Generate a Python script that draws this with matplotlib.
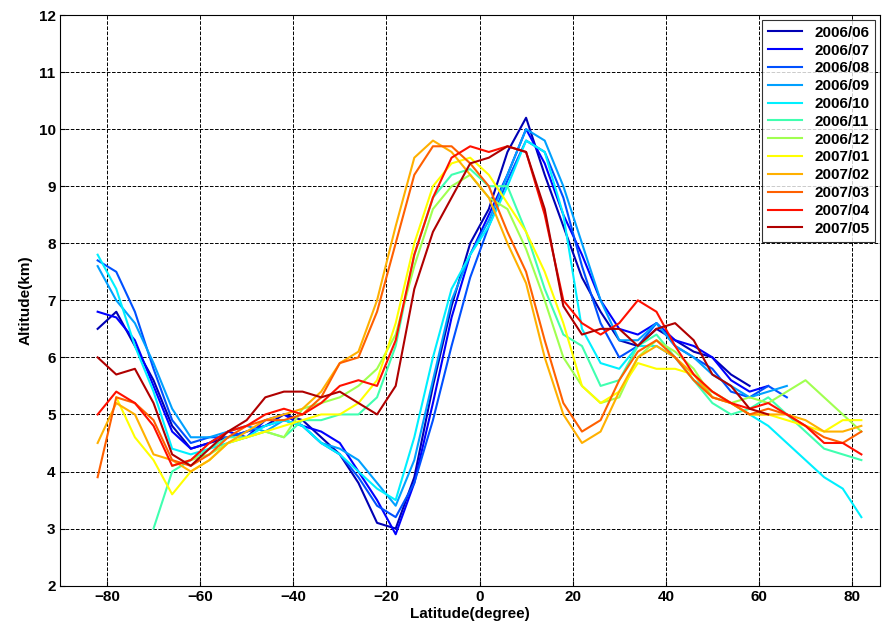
import matplotlib
matplotlib.use("Agg")
import matplotlib.pyplot as plt
import numpy as np

plt.rcParams["font.family"] = ["Liberation Sans", "DejaVu Sans"]
nan = np.nan

lat = np.arange(-82, 83, 4)

labels = ["2006/06", "2006/07", "2006/08", "2006/09", "2006/10", "2006/11",
          "2006/12", "2007/01", "2007/02", "2007/03", "2007/04", "2007/05"]
colors = ["#0000b4", "#0000ff", "#0050ff", "#00a0ff", "#00f0ff", "#40ffb0",
          "#a0ff50", "#ffff00", "#ffb000", "#ff6000", "#ff1000", "#b00000"]

m06 = [6.5, 6.8, 6.2, 5.6, 4.8, 4.4, 4.5, 4.6, 4.7, 4.8, 5.0, 4.9, 4.6, 4.3, 3.8, 3.1, 3.0, 3.9, 5.5, 6.9, 8.0,
       8.6, 9.6, 10.2, 9.2, 8.3, 7.4, 6.8, 6.3, 6.2, 6.5, 6.3, 6.1, 6.0, 5.7, 5.5, nan, nan, nan, nan, nan, nan]
m07 = [6.8, 6.7, 6.3, 5.5, 4.7, 4.4, 4.5, 4.7, 4.6, 4.9, 5.0, 4.8, 4.7, 4.5, 4.0, 3.5, 2.9, 3.8, 5.2, 6.7, 7.8,
       8.5, 9.2, 10.0, 9.4, 8.5, 7.8, 7.0, 6.5, 6.4, 6.6, 6.3, 6.2, 6.0, 5.6, 5.4, 5.5, nan, nan, nan, nan, nan]
m08 = [7.7, 7.5, 6.8, 5.8, 4.9, 4.5, 4.6, 4.6, 4.7, 4.8, 4.9, 4.8, 4.5, 4.3, 3.9, 3.4, 3.2, 3.8, 4.9, 6.2, 7.4,
       8.3, 9.1, 9.8, 9.6, 8.8, 7.6, 6.6, 6.0, 6.2, 6.6, 6.2, 6.0, 5.8, 5.4, 5.3, 5.5, 5.3, nan, nan, nan, nan]
m09 = [7.6, 7.0, 6.6, 5.9, 5.1, 4.6, 4.6, 4.7, 4.8, 4.7, 4.9, 4.8, 4.5, 4.4, 4.2, 3.8, 3.4, 4.2, 5.6, 7.0, 7.8,
       8.4, 9.2, 10.0, 9.8, 9.0, 8.0, 7.0, 6.3, 6.3, 6.6, 6.2, 6.0, 5.7, 5.5, 5.3, 5.4, 5.5, nan, nan, nan, nan]
m10 = [7.8, 7.2, 6.2, 5.4, 4.4, 4.3, 4.4, 4.5, 4.6, 4.8, 4.9, 4.8, 4.5, 4.3, 4.0, 3.7, 3.5, 4.6, 6.0, 7.2, 7.8,
       8.3, 9.0, 9.8, 9.6, 8.5, 6.5, 5.9, 5.8, 6.2, 6.2, 6.0, 5.6, 5.4, 5.2, 5.0, 4.8, 4.5, 4.2, 3.9, 3.7, 3.2]
m11 = [nan, nan, nan, 3.0, 4.0, 4.2, 4.4, 4.6, 4.6, 4.7, 4.6, 4.9, 4.9, 5.0, 5.0, 5.3, 6.2, 7.8, 8.8, 9.2, 9.3,
       9.0, 9.0, 8.2, 7.2, 6.4, 6.2, 5.5, 5.6, 6.2, 6.4, 6.0, 5.6, 5.2, 5.0, 5.1, 5.3, 5.0, 4.7, 4.4, 4.3, 4.2]
m12 = [nan, nan, nan, nan, 4.1, 4.2, 4.3, 4.5, 4.6, 4.7, 4.6, 5.1, 5.2, 5.3, 5.5, 5.8, 6.4, 7.6, 8.6, 9.0, 9.2,
       8.8, 8.6, 7.9, 7.0, 6.0, 5.5, 5.2, 5.3, 6.0, 6.3, 6.1, 5.8, 5.3, 5.2, 5.3, 5.2, 5.4, 5.6, 5.3, 5.0, 4.7]
m01 = [nan, 5.3, 4.6, 4.2, 3.6, 4.0, 4.2, 4.5, 4.6, 4.7, 4.8, 4.9, 5.0, 5.0, 5.2, 5.6, 6.6, 8.0, 9.0, 9.4, 9.5,
       9.2, 8.7, 8.2, 7.5, 6.6, 5.5, 5.2, 5.4, 5.9, 5.8, 5.8, 5.7, 5.4, 5.2, 5.0, 5.0, 4.9, 4.8, 4.7, 4.9, 4.9]
m02 = [4.5, 5.2, 5.0, 4.3, 4.2, 4.0, 4.2, 4.5, 4.7, 4.9, 5.0, 5.1, 5.4, 5.9, 6.1, 7.0, 8.3, 9.5, 9.8, 9.6, 9.2,
       8.8, 8.0, 7.3, 6.0, 5.0, 4.5, 4.7, 5.4, 6.0, 6.2, 6.0, 5.7, 5.3, 5.2, 5.0, 5.0, 5.0, 4.9, 4.7, 4.7, 4.8]
m03 = [3.9, 5.3, 5.2, 4.9, 4.2, 4.1, 4.3, 4.6, 4.8, 4.9, 4.9, 5.0, 5.3, 5.9, 6.0, 6.8, 8.0, 9.2, 9.7, 9.7, 9.4,
       9.0, 8.2, 7.5, 6.3, 5.2, 4.7, 4.9, 5.6, 6.1, 6.3, 6.0, 5.6, 5.3, 5.2, 5.0, 5.1, 5.0, 4.8, 4.6, 4.5, 4.7]
m04 = [5.0, 5.4, 5.2, 4.8, 4.1, 4.2, 4.5, 4.7, 4.8, 5.0, 5.1, 5.0, 5.2, 5.5, 5.6, 5.5, 6.3, 7.8, 8.8, 9.5, 9.7,
       9.6, 9.7, 9.6, 8.5, 7.0, 6.6, 6.4, 6.6, 7.0, 6.8, 6.2, 5.7, 5.4, 5.2, 5.1, 5.2, 5.0, 4.8, 4.5, 4.5, 4.3]
m05 = [6.0, 5.7, 5.8, 5.2, 4.3, 4.1, 4.4, 4.7, 4.9, 5.3, 5.4, 5.4, 5.3, 5.4, 5.2, 5.0, 5.5, 7.2, 8.2, 8.8, 9.4,
       9.5, 9.7, 9.6, 8.6, 6.9, 6.4, 6.5, 6.5, 6.2, 6.5, 6.6, 6.3, 5.7, 5.5, 5.1, 5.0, nan, nan, nan, nan, nan]

series = [m06, m07, m08, m09, m10, m11, m12, m01, m02, m03, m04, m05]

fig = plt.figure(figsize=(8.88, 6.27), dpi=100)
ax = fig.add_axes([0.068, 0.066, 0.923, 0.91])
for s, c, l in zip(series, colors, labels):
    ax.plot(lat, s, color=c, lw=1.5, label=l)

ax.set_xlim(-90, 86)
ax.set_ylim(2, 12)
ax.set_xticks(range(-80, 81, 20))
ax.set_yticks(range(2, 13))
ax.grid(True, color="black", linestyle="--", linewidth=0.7)
ax.tick_params(direction="in", labelsize=11)
for t in ax.get_xticklabels() + ax.get_yticklabels():
    t.set_fontweight("bold")
ax.set_xlabel("Latitude(degree)", fontsize=11, fontweight="bold", labelpad=2)
ax.set_ylabel("Altitude(km)", fontsize=11, fontweight="bold", labelpad=4)
leg = ax.legend(loc="upper right", fancybox=False, edgecolor="black",
                prop={"weight": "bold", "size": 11}, handlelength=2.2,
                labelspacing=0.25, borderaxespad=0.3)
leg.get_frame().set_linewidth(0.8)

fig.savefig("out.png", dpi=100)
